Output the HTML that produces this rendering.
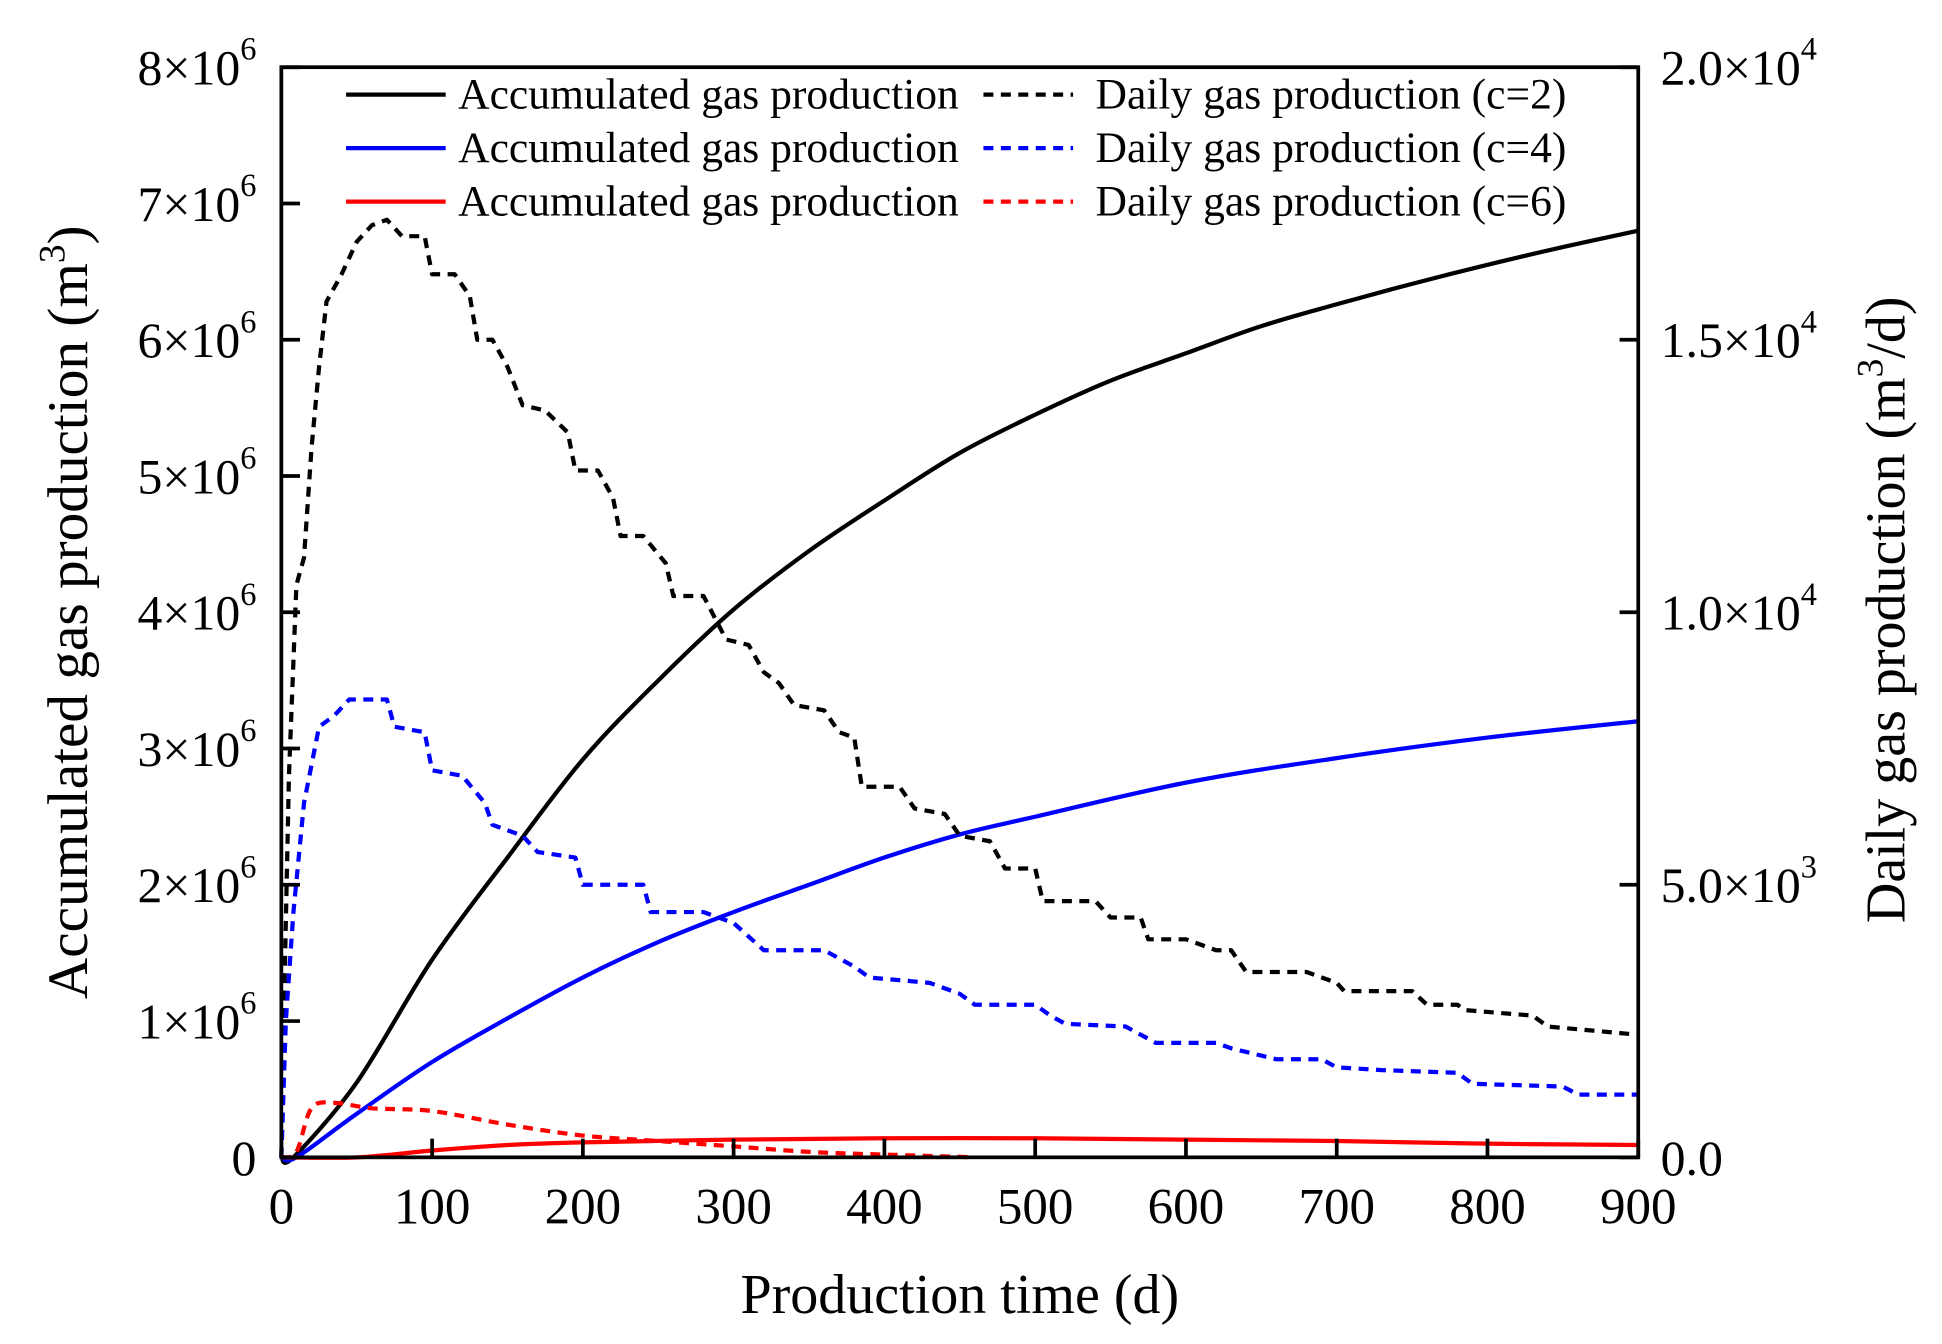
<!DOCTYPE html>
<html><head><meta charset="utf-8"><style>
html,body{margin:0;padding:0;background:#fff;}
svg{display:block;}
text{font-family:"Liberation Serif",serif;fill:#000;}
</style></head><body>
<svg id="chart" width="1942" height="1344" viewBox="0 0 1560 1080" preserveAspectRatio="none" xmlns="http://www.w3.org/2000/svg">
<g id="plot"></g>
</svg>
<script>
const xTicks = [0,100,200,300,400,500,600,700,800,900];
const yLeftTicks = [0,1,2,3,4,5,6,7,8];
const yRightTicks = [0,5,10,15,20];
const yRightLabels = ["0.0","5.0×10³","1.0×10⁴","1.5×10⁴","2.0×10⁴"];
// accumulated (×1e6 m3)
const accDays = [0,8,50,100,150,200,250,300,350,400,450,500,550,600,650,700,750,800,850,900];
const accC2 = [0,0,0.55,1.45,2.2,2.92,3.5,4.02,4.45,4.82,5.17,5.45,5.7,5.9,6.1,6.26,6.41,6.55,6.68,6.8];
const accBlueDays = [0,10,50,100,150,200,250,300,350,400,450,500,600,700,800,900];
const accC4 = [0,0,0.32,0.7,1.02,1.32,1.58,1.8,2.0,2.2,2.37,2.5,2.75,2.93,3.08,3.2];
const accRedDays = [0,50,100,150,200,300,400,500,600,700,800,900];
const accC6 = [0,0,0.05,0.09,0.11,0.13,0.14,0.14,0.13,0.12,0.1,0.09];
// daily (×1e3 m3/d)
const dailyC2Days = [0,2,5,10,15,20,25,30,40,50,60,70,80,95,100,115,125,130,140,150,160,175,190,195,210,220,225,240,255,260,280,295,310,320,330,340,360,370,380,385,410,420,440,450,470,480,500,505,540,550,570,575,600,620,630,640,680,690,700,705,750,760,780,785,830,840,880,900];
const dailyC2 = [0,3,7,10.5,11,13,14.5,15.7,16.2,16.8,17.1,17.2,16.9,16.9,16.2,16.2,15.8,15.0,15.0,14.5,13.8,13.7,13.3,12.6,12.6,12.1,11.4,11.4,10.9,10.3,10.3,9.5,9.4,8.9,8.7,8.3,8.2,7.8,7.7,6.8,6.8,6.4,6.3,5.9,5.8,5.3,5.3,4.7,4.7,4.4,4.4,4.0,4.0,3.8,3.8,3.4,3.4,3.3,3.2,3.05,3.05,2.8,2.8,2.7,2.6,2.4,2.3,2.25];
const dailyC4Days = [0,3,8,15,25,35,45,70,75,95,100,120,135,140,160,170,195,200,240,245,280,300,320,360,380,390,430,450,460,500,510,520,560,580,620,630,660,690,700,730,780,790,850,860,900];
const dailyC4 = [0,2.5,4.5,6.5,7.9,8.1,8.4,8.4,7.9,7.8,7.1,7.0,6.5,6.1,5.9,5.6,5.5,5.0,5.0,4.5,4.5,4.3,3.8,3.8,3.5,3.3,3.2,3.0,2.8,2.8,2.6,2.45,2.4,2.1,2.1,2.0,1.8,1.8,1.65,1.6,1.55,1.35,1.3,1.15,1.15];
const dailyC6Days = [0,10,20,35,60,100,150,200,250,300,350,400,460];
const dailyC6 = [0,0.1,0.9,1.0,0.9,0.85,0.6,0.4,0.3,0.2,0.1,0.05,0];

const X0=226,X1=1316,YB=930,YT=54;
const xs=d=>X0+(X1-X0)*d/900;
const yl=v=>YB-(YB-YT)*v/8;
const yr=v=>YB-(YB-YT)*v/20;
const NS="http://www.w3.org/2000/svg";
const g=document.getElementById('plot');
function mk(tag,attrs,parent){const e=document.createElementNS(NS,tag);for(const k in attrs)e.setAttribute(k,attrs[k]);(parent||g).appendChild(e);return e;}

function pathStr(days,vals,yf,smooth){
  const P=days.map((t,i)=>[xs(t),yf(vals[i])]);
  if(!smooth) return P.map((p,i)=>(i?'L':'M')+p[0].toFixed(1)+','+p[1].toFixed(1)).join('');
  let d='M'+P[0][0].toFixed(1)+','+P[0][1].toFixed(1);
  for(let i=0;i<P.length-1;i++){
    const p0=P[Math.max(0,i-1)],p1=P[i],p2=P[i+1],p3=P[Math.min(P.length-1,i+2)];
    const c1=[p1[0]+(p2[0]-p0[0])/6,p1[1]+(p2[1]-p0[1])/6];
    const c2=[p2[0]-(p3[0]-p1[0])/6,p2[1]-(p3[1]-p1[1])/6];
    d+='C'+c1.map(v=>v.toFixed(1)).join(',')+' '+c2.map(v=>v.toFixed(1)).join(',')+' '+p2.map(v=>v.toFixed(1)).join(',');
  }
  return d;
}
function series(days,vals,yf,color,dash,name,smooth){
  const p=mk('path',{d:pathStr(days,vals,yf,smooth),fill:'none',stroke:color,'stroke-width':3.4,'stroke-dasharray':dash||'none','stroke-linejoin':'round'});
  
  
}
series(accDays,accC2,yl,'#000','', 'accumulated-c2-line',true);
series(accBlueDays,accC4,yl,'#0000ff','', 'accumulated-c4-line',true);
series(accRedDays,accC6,yl,'#ff0000','', 'accumulated-c6-line',true);
series(dailyC2Days,dailyC2,yr,'#000','8 6', 'daily-c2-line',false);
series(dailyC4Days,dailyC4,yr,'#0000ff','8 6', 'daily-c4-line',false);
series(dailyC6Days,dailyC6,yr,'#ff0000','8 6', 'daily-c6-line',true);

const fr=mk('rect',{x:X0,y:YT,width:X1-X0,height:YB-YT,fill:'none',stroke:'#000','stroke-width':3});



xTicks.forEach(t=>{
  mk('line',{x1:xs(t),x2:xs(t),y1:YB,y2:YB-15,stroke:'#000','stroke-width':3});
  const tx=mk('text',{x:xs(t),y:YB+53,'font-size':41,'text-anchor':'middle'});
  tx.textContent=t;
  
  
});
yLeftTicks.forEach(t=>{
  mk('line',{x1:X0,x2:X0+15,y1:yl(t),y2:yl(t),stroke:'#000','stroke-width':3});
  const tx=mk('text',{x:X0-20,y:yl(t)+14,'font-size':40,'text-anchor':'end'});
  if(t===0){tx.textContent='0';}else{
    tx.textContent=t+'×10';
    const s=mk('tspan',{dy:-20,'font-size':26},tx);s.textContent='6';
  }
  
  
});
yRightTicks.forEach((t,i)=>{
  mk('line',{x1:X1,x2:X1-15,y1:yr(t),y2:yr(t),stroke:'#000','stroke-width':3});
  const lab=yRightLabels[i];
  const tx=mk('text',{x:X1+18,y:yr(t)+14,'font-size':40,'text-anchor':'start'});
  const m=lab.match(/^(.*10)([³⁴])$/);
  if(m){tx.textContent=m[1];const s=mk('tspan',{dy:-20,'font-size':26},tx);s.textContent=m[2]==='³'?'3':'4';}
  else tx.textContent=lab;
  
  
});

const xt=mk('text',{x:771,y:1055,'font-size':45,'text-anchor':'middle'});
xt.textContent='Production time (d)';


const ylt=mk('text',{x:0,y:0,'font-size':46,'text-anchor':'middle',transform:'translate(70,492) rotate(-90)'});
ylt.textContent='Accumulated gas production (m';
const ys1=mk('tspan',{dy:-18,'font-size':30},ylt);ys1.textContent='3';
const ys2=mk('tspan',{dy:18},ylt);ys2.textContent=')';


const yrt=mk('text',{x:0,y:0,'font-size':45,'text-anchor':'middle',transform:'translate(1530,490) rotate(-90)'});
yrt.textContent='Daily gas production (m';
const yr1=mk('tspan',{dy:-18,'font-size':30},yrt);yr1.textContent='3';
const yr2=mk('tspan',{dy:18},yrt);yr2.textContent='/d)';



const legColors=['#000','#0000ff','#ff0000'];
const legC=['2','4','6'];
const legRows=[76,119,162];
legRows.forEach((y,i)=>{
  const l1=mk('line',{x1:278,x2:358,y1:y,y2:y,stroke:legColors[i],'stroke-width':3.4});
  
  
  const t1=mk('text',{x:368,y:y+11,'font-size':35});
  t1.textContent='Accumulated gas production';
  
  
  const l2=mk('line',{x1:790,x2:862,y1:y,y2:y,stroke:legColors[i],'stroke-width':3.4,'stroke-dasharray':'8 6'});
  
  
  const t2=mk('text',{x:880,y:y+11,'font-size':35});
  t2.textContent='Daily gas production (c='+legC[i]+')';
  
  
});
</script>
</body></html>
